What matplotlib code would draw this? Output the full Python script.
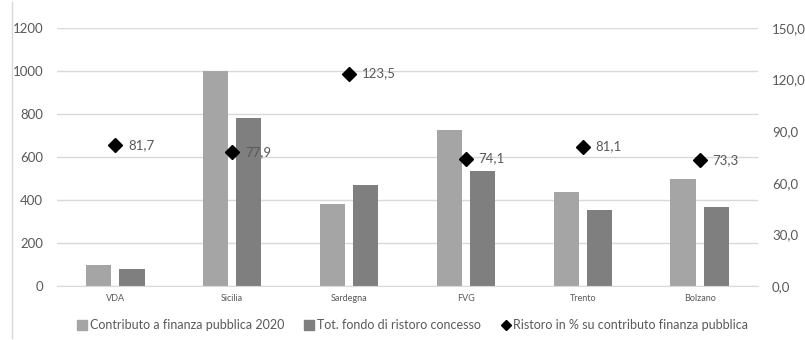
import numpy as np
import matplotlib.pyplot as plt
from matplotlib.lines import Line2D

regions = ["VDA", "Sicilia", "Sardegna", "FVG", "Trento", "Bolzano"]
contributo = [100, 1000, 380, 725, 435, 500]
ristoro = [80, 780, 470, 535, 352, 368]
ristoro_pct = [81.7, 77.9, 123.5, 74.1, 81.1, 73.3]

light = "#a5a5a5"
dark = "#7f7f7f"
txt = "#595959"
grid = "#d9d9d9"

plt.rcParams['font.family'] = ['Lato', 'DejaVu Sans']

fig = plt.figure(figsize=(8.05, 3.4), dpi=100)
ax = fig.add_axes([57 / 805, 54 / 340, 701 / 805, 258 / 340])
ax2 = ax.twinx()

x = np.arange(len(regions))
w = 0.215
off = 0.142
ax.bar(x - off, contributo, w, color=light, label="Contributo a finanza pubblica 2020", zorder=2)
ax.bar(x + off, ristoro, w, color=dark, label="Tot. fondo di ristoro concesso", zorder=2)

ax.set_xlim(-0.5, len(regions) - 0.5)
ax.set_ylim(0, 1200)
ax.set_yticks(range(0, 1201, 200))
ax.yaxis.grid(True, color=grid, linewidth=1, zorder=0)
ax.set_axisbelow(True)
ax.set_xticks(x)
ax.set_xticklabels(regions, fontsize=6.5, color=txt)
ax.tick_params(axis='y', labelsize=9.5, colors=txt, length=0, pad=10)
ax.tick_params(axis='x', length=0, pad=6)

ax2.set_ylim(0, 150)
ax2.set_yticks(range(0, 151, 30))
ax2.set_yticklabels([f"{v:.1f}".replace(".", ",") for v in range(0, 151, 30)])
ax2.tick_params(axis='y', labelsize=9.5, colors=txt, length=0, pad=10)
ax2.plot(x, ristoro_pct, linestyle="none", marker="D", color="black", markersize=7, zorder=5)
for xi, v in zip(x, ristoro_pct):
    ax2.annotate(f"{v:.1f}".replace(".", ","), (xi, v), xytext=(9, 0),
                 textcoords="offset points", va="center", ha="left", fontsize=9.5, color=txt)

for a in (ax, ax2):
    for s in a.spines.values():
        s.set_visible(False)
ax.spines['bottom'].set_visible(True)
ax.spines['bottom'].set_color(grid)

fig.add_artist(Line2D([12 / 805, 12 / 805], [2 / 340, 338 / 340], color=grid, linewidth=1))

handles = [
    Line2D([], [], linestyle="none", marker="s", color=light, markersize=7),
    Line2D([], [], linestyle="none", marker="s", color=dark, markersize=7),
    Line2D([], [], linestyle="none", marker="D", color="black", markersize=5),
]
labels = ["Contributo a finanza pubblica 2020", "Tot. fondo di ristoro concesso",
          "Ristoro in % su contributo finanza pubblica"]
fig.legend(handles, labels, loc="center", bbox_to_anchor=(412 / 805, 1 - 325 / 340), ncol=3,
           frameon=False, fontsize=9, handletextpad=0.1, columnspacing=1.5,
           handlelength=1.0, labelcolor=txt)

fig.savefig("out.png", dpi=100)
